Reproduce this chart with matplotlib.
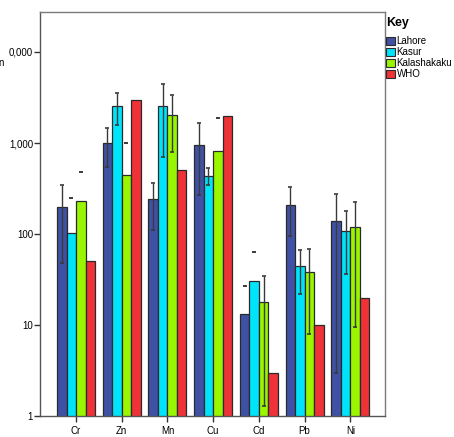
import numpy as np
import matplotlib
matplotlib.use('Agg')
import matplotlib.pyplot as plt
from matplotlib.patches import Patch

plt.rcParams['font.family'] = ['Liberation Sans', 'DejaVu Sans']

# Dados
metais = ['Cr', 'Zn', 'Mn', 'Cu', 'Cd', 'Pb', 'Ni']
locais = ['Lahore', 'Kasur', 'Kalashakaku', 'WHO']
cores = ['#3f51a5', '#00e4fb', '#99f500', '#ee3237']

lahore = [200, 1000, 240, 960, 13.1, 210, 138]
kasur = [102, 2570, 2570, 437, 30.5, 44, 109]
kalashakaku = [232, 442, 2050, 820, 17.9, 38.2, 118]
who = [50, 3000, 500, 2000, 3.0, 10, 20]

# barras de erro (limite inferior / superior)
lahore_lo = [48, 550, 110, 269, 26.8, 95, 3.0]
lahore_hi = [348, 1480, 363, 1660, 26.8, 326, 273]
kasur_lo = [251, 1577, 707, 345, 64, 21.7, 36.6]
kasur_hi = [251, 3520, 4418, 535, 64, 66, 180]
kala_lo = [476, 1007, 790, 1883, 1.3, 8.0, 9.6]
kala_hi = [476, 1007, 3340, 1883, 34.3, 68.4, 226]

valores = [lahore, kasur, kalashakaku, who]
erros_lo = [lahore_lo, kasur_lo, kala_lo, None]
erros_hi = [lahore_hi, kasur_hi, kala_hi, None]

yticks = [1, 10, 100, 1000, 10000]
ytick_labels = ['1', '10', '100', '1,000', '0,000']

fig = plt.figure(figsize=(4.54, 4.37), dpi=100)
ax = fig.add_axes([0.0881, 0.048, 0.760, 0.9245])

x = np.arange(len(metais))
largura = 0.208
for i, (vals, cor) in enumerate(zip(valores, cores)):
    pos = x + (i - 1.5) * largura
    ax.bar(pos, vals, width=largura, color=cor, edgecolor='#2a2a2a',
           linewidth=0.9, bottom=0, zorder=2)
    if erros_lo[i] is not None:
        lo = np.array(erros_lo[i])
        hi = np.array(erros_hi[i])
        meio = (lo + hi) / 2
        ax.errorbar(pos, meio, yerr=[meio - lo, hi - meio], fmt='none',
                    ecolor='#3a3a3a', elinewidth=1.0, capsize=1.5,
                    capthick=1.2, zorder=3)

ax.set_yscale('log')
ax.set_ylim(1, 27500)
ax.set_xlim(-0.788, 6.76)
ax.set_yticks(yticks)
ax.set_yticklabels(ytick_labels)
ax.yaxis.set_minor_locator(matplotlib.ticker.NullLocator())
ax.set_xticks(x)
ax.set_xticklabels(metais)
ax.tick_params(axis='both', labelsize=7, color='#333333', length=4, width=1)
ax.tick_params(axis='y', pad=1)
ax.tick_params(axis='x', pad=3)
for sp in ax.spines.values():
    sp.set_color('#7a7a7a')
    sp.set_linewidth(1.0)
ax.spines['left'].set_color('#555555')
ax.spines['bottom'].set_color('#555555')

handles = [Patch(facecolor=c, edgecolor='#2a2a2a', linewidth=0.8) for c in cores]
leg = fig.legend(handles, locais, loc='upper left', bbox_to_anchor=(0.846, 0.965),
                 frameon=False, title='Key', fontsize=7, handlelength=0.9,
                 handleheight=0.9, handletextpad=0.2, labelspacing=0.1,
                 borderaxespad=0, borderpad=0.2,
                 title_fontproperties={'weight': 'bold', 'size': 9})
leg._legend_box.align = 'left'
leg._legend_box.sep = 5

fig.text(-0.004, 0.85, 'n', fontsize=7)

plt.savefig('out.png', dpi=100, facecolor='white')
